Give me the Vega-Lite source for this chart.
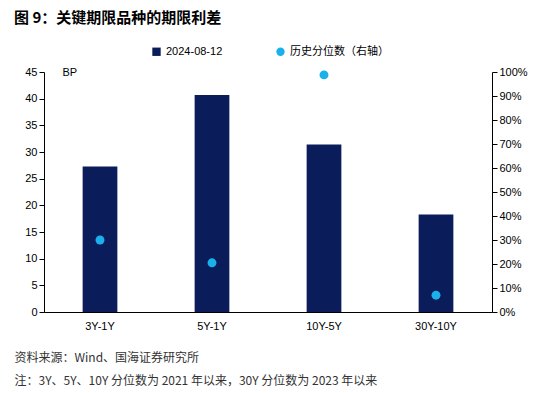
{
  "$schema": "https://vega.github.io/schema/vega-lite/v6.json",
  "width": 448,
  "height": 240,
  "autosize": {"type": "none"},
  "padding": {"left": 44, "top": 72, "right": 58, "bottom": 81},
  "background": "white",
  "title": {
    "text": "图 9：关键期限品种的期限利差",
    "anchor": "start",
    "frame": "group",
    "dx": -30,
    "offset": 20,
    "font": "Noto Sans CJK SC",
    "fontSize": 15,
    "fontWeight": "bold",
    "color": "#000000"
  },
  "config": {
    "view": {"stroke": null},
    "font": "Liberation Sans",
    "axis": {"grid": false, "domainColor": "#000000", "tickColor": "#000000", "labelColor": "#000000", "labelFontSize": 11, "labelFont": "Liberation Sans"}
  },
  "data": {
    "values": [
      {"term": "3Y-1Y", "spread": 27.3, "pct": 0.30},
      {"term": "5Y-1Y", "spread": 40.7, "pct": 0.205},
      {"term": "10Y-5Y", "spread": 31.4, "pct": 0.988},
      {"term": "30Y-10Y", "spread": 18.3, "pct": 0.07}
    ]
  },
  "encoding": {
    "x": {
      "field": "term",
      "type": "nominal",
      "sort": null,
      "scale": {"paddingInner": 0.69, "paddingOuter": 0.345},
      "axis": {
        "labelAngle": 0,
        "ticks": false,
        "labelPadding": 8,
        "title": ["资料来源：Wind、国海证券研究所", "注：3Y、5Y、10Y 分位数为 2021 年以来，30Y 分位数为 2023 年以来"],
        "titleFont": "Noto Sans CJK SC",
        "titleFontSize": 12,
        "titleFontWeight": "normal",
        "titleColor": "#333333",
        "titleAnchor": "start",
        "titleAlign": "left",
        "titleBaseline": "middle",
        "titleX": -30,
        "titleY": 45,
        "titleLineHeight": 23
      }
    }
  },
  "layer": [
    {
      "mark": {"type": "bar", "color": "#0a1d5a"},
      "encoding": {
        "y": {
          "field": "spread",
          "type": "quantitative",
          "scale": {"domain": [0, 45]},
          "axis": {
            "values": [0, 5, 10, 15, 20, 25, 30, 35, 40, 45],
            "tickSize": 5,
            "title": "BP",
            "titleAngle": 0,
            "titleFont": "Liberation Sans",
            "titleFontSize": 11,
            "titleFontWeight": "normal",
            "titleAlign": "left",
            "titleBaseline": "middle",
            "titleX": 18,
            "titleY": 0
          }
        },
        "color": {
          "datum": "2024-08-12",
          "type": "nominal",
          "scale": {"domain": ["2024-08-12", "历史分位数（右轴）"], "range": ["#0a1d5a", "#1ab0ec"]},
          "legend": {
            "title": null,
            "orient": "none",
            "legendX": 107,
            "legendY": -26,
            "direction": "horizontal",
            "columns": 2,
            "columnPadding": 52,
            "symbolSize": 70,
            "labelFont": "Liberation Sans, Noto Sans CJK SC",
            "labelFontSize": 11,
            "labelColor": "#000000",
            "symbolStrokeWidth": 0,
            "encode": {"symbols": {"update": {"shape": {"signal": "datum.value == '2024-08-12' ? 'square' : 'circle'"}}}}
          }
        }
      }
    },
    {
      "mark": {"type": "point", "filled": true, "size": 80, "opacity": 1},
      "encoding": {
        "y": {
          "field": "pct",
          "type": "quantitative",
          "scale": {"domain": [0, 1]},
          "axis": {
            "orient": "right",
            "values": [0, 0.1, 0.2, 0.3, 0.4, 0.5, 0.6, 0.7, 0.8, 0.9, 1],
            "format": ".0%",
            "tickSize": 5,
            "title": null
          }
        },
        "color": {"datum": "历史分位数（右轴）", "type": "nominal"}
      }
    }
  ],
  "resolve": {"scale": {"y": "independent"}}
}
